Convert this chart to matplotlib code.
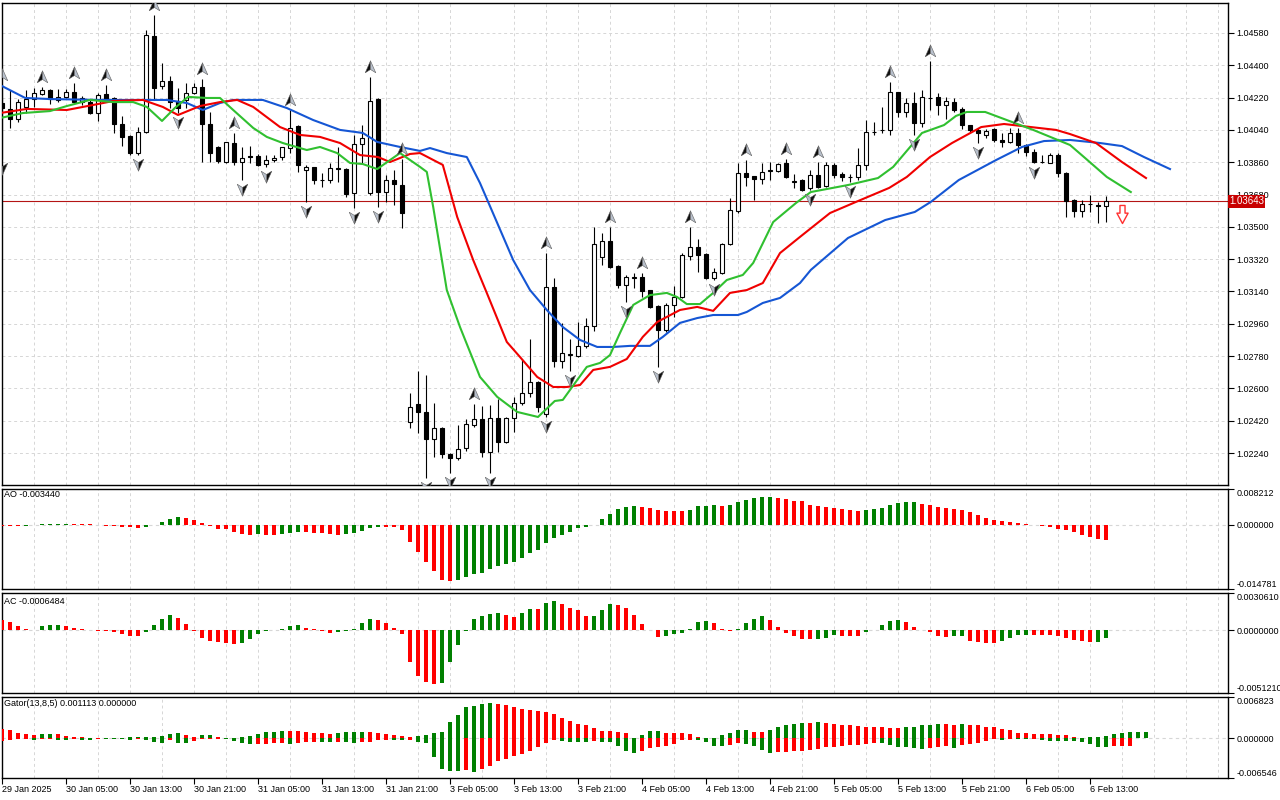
import numpy as np
import matplotlib
matplotlib.use("Agg")
import matplotlib.pyplot as plt
from matplotlib.path import Path
from matplotlib.transforms import ScaledTranslation

plt.rcParams['font.family'] = ['Liberation Sans', 'DejaVu Sans']
plt.rcParams['axes.unicode_minus'] = False

# ---- H1 candles, one per bar (bar 0 = 29 Jan 21:00) ----
opens = [1.04190, 1.04157, 1.04101, 1.04168, 1.04212, 1.04240, 1.04263, 1.04207, 1.04224, 1.04251,
         1.04195, 1.04195, 1.04134, 1.04240, 1.04218, 1.04073, 1.04006, 1.03911, 1.04028, 1.04563,
         1.04285, 1.04313, 1.04201, 1.04207, 1.04246, 1.04279, 1.04073, 1.03945, 1.03861, 1.03967,
         1.03861, 1.03895, 1.03895, 1.03850, 1.03872, 1.03889, 1.03939, 1.04062, 1.03817, 1.03834,
         1.03763, 1.03761, 1.03828, 1.03822, 1.03689, 1.03962, 1.03689, 1.04212, 1.03694, 1.03761,
         1.03733, 1.02413, 1.02514, 1.02469, 1.02319, 1.02380, 1.02235, 1.02213, 1.02269, 1.02397,
         1.02430, 1.02247, 1.02436, 1.02302, 1.02436, 1.02519, 1.02575, 1.02636, 1.02458, 1.03165,
         1.02753, 1.02786, 1.02781, 1.02837, 1.02948, 1.03332, 1.03421, 1.03282, 1.03176, 1.03215,
         1.03220, 1.03148, 1.03059, 1.02926, 1.03065, 1.03109, 1.03338, 1.03388, 1.03349, 1.03215,
         1.03243, 1.03405, 1.03588, 1.03800, 1.03783, 1.03767, 1.03811, 1.03811, 1.03856, 1.03750,
         1.03761, 1.03717, 1.03789, 1.03728, 1.03845, 1.03795, 1.03780, 1.03778, 1.03845, 1.04028,
         1.04038, 1.04040, 1.04251, 1.04140, 1.04190, 1.04079, 1.04220, 1.04224, 1.04179, 1.04195,
         1.04157, 1.04067, 1.04040, 1.04012, 1.04045, 1.03984, 1.03973, 1.04023, 1.03956, 1.03917,
         1.03863, 1.03856, 1.03900, 1.03800, 1.03650, 1.03588, 1.03627, 1.03622, 1.03616]
highs = [1.04290, 1.04263, 1.04212, 1.04263, 1.04274, 1.04279, 1.04268, 1.04268, 1.04268, 1.04302,
         1.04229, 1.04207, 1.04246, 1.04290, 1.04224, 1.04118, 1.04012, 1.04056, 1.04597, 1.04680,
         1.04413, 1.04341, 1.04274, 1.04302, 1.04302, 1.04324, 1.04140, 1.03950, 1.03975, 1.04023,
         1.03945, 1.03950, 1.03906, 1.03900, 1.03900, 1.03945, 1.04151, 1.04067, 1.03845, 1.03836,
         1.03800, 1.03856, 1.03945, 1.03828, 1.04012, 1.04067, 1.04335, 1.04218, 1.03789, 1.03817,
         1.03878, 1.02575, 1.02697, 1.02675, 1.02519, 1.02386, 1.02240, 1.02397, 1.02430, 1.02514,
         1.02503, 1.02508, 1.02541, 1.02441, 1.02553, 1.02764, 1.02876, 1.02641, 1.03354, 1.03215,
         1.02965, 1.02876, 1.02970, 1.02992, 1.03499, 1.03466, 1.03499, 1.03285, 1.03232, 1.03243,
         1.03243, 1.03150, 1.03062, 1.03076, 1.03171, 1.03354, 1.03499, 1.03433, 1.03352, 1.03271,
         1.03410, 1.03661, 1.03856, 1.03872, 1.03786, 1.03856, 1.03861, 1.03856, 1.03878, 1.03795,
         1.03764, 1.03817, 1.03861, 1.03861, 1.03856, 1.03806, 1.03795, 1.03939, 1.04095, 1.04084,
         1.04168, 1.04307, 1.04254, 1.04218, 1.04251, 1.04263, 1.04424, 1.04246, 1.04224, 1.04218,
         1.04168, 1.04070, 1.04051, 1.04045, 1.04048, 1.04023, 1.04051, 1.04051, 1.03959, 1.03934,
         1.03900, 1.03911, 1.03911, 1.03806, 1.03653, 1.03650, 1.03678, 1.03639, 1.03672]
lows = [1.03878, 1.04051, 1.04084, 1.04134, 1.04168, 1.04235, 1.04184, 1.04195, 1.04218, 1.04190,
        1.04179, 1.04130, 1.04090, 1.04207, 1.04023, 1.03950, 1.03900, 1.03900, 1.04023, 1.04207,
        1.04268, 1.04162, 1.04134, 1.04162, 1.04240, 1.03861, 1.03861, 1.03856, 1.03856, 1.03845,
        1.03761, 1.03856, 1.03839, 1.03834, 1.03861, 1.03872, 1.03911, 1.03806, 1.03639, 1.03739,
        1.03722, 1.03744, 1.03750, 1.03667, 1.03605, 1.03856, 1.03678, 1.03611, 1.03639, 1.03622,
        1.03494, 1.02380, 1.02352, 1.02101, 1.02218, 1.02213, 1.02129, 1.02202, 1.02252, 1.02386,
        1.02218, 1.02129, 1.02247, 1.02297, 1.02358, 1.02508, 1.02553, 1.02469, 1.02441, 1.02720,
        1.02714, 1.02697, 1.02775, 1.02826, 1.02920, 1.03288, 1.03271, 1.03159, 1.03081, 1.03159,
        1.03109, 1.03050, 1.02720, 1.02915, 1.02998, 1.03105, 1.03315, 1.03248, 1.03212, 1.03204,
        1.03240, 1.03399, 1.03577, 1.03728, 1.03650, 1.03739, 1.03761, 1.03806, 1.03772, 1.03717,
        1.03700, 1.03706, 1.03717, 1.03722, 1.03772, 1.03756, 1.03750, 1.03761, 1.03817, 1.04012,
        1.04023, 1.04012, 1.04112, 1.04112, 1.04012, 1.04056, 1.04151, 1.04123, 1.04101, 1.04140,
        1.04045, 1.04028, 1.03967, 1.03995, 1.03973, 1.03945, 1.03967, 1.03911, 1.03895, 1.03856,
        1.03856, 1.03853, 1.03778, 1.03555, 1.03555, 1.03555, 1.03583, 1.03522, 1.03527]
closes = [1.04162, 1.04101, 1.04195, 1.04212, 1.04246, 1.04263, 1.04212, 1.04224, 1.04251, 1.04195,
          1.04218, 1.04134, 1.04235, 1.04212, 1.04073, 1.04001, 1.03911, 1.04028, 1.04569, 1.04274,
          1.04313, 1.04195, 1.04162, 1.04246, 1.04279, 1.04073, 1.03911, 1.03867, 1.03973, 1.03861,
          1.03883, 1.03889, 1.03845, 1.03872, 1.03883, 1.03945, 1.04051, 1.03845, 1.03834, 1.03761,
          1.03761, 1.03828, 1.03822, 1.03683, 1.03962, 1.03995, 1.04201, 1.03694, 1.03761, 1.03739,
          1.03577, 1.02497, 1.02469, 1.02319, 1.02380, 1.02235, 1.02213, 1.02263, 1.02402, 1.02430,
          1.02247, 1.02436, 1.02302, 1.02436, 1.02519, 1.02575, 1.02636, 1.02497, 1.03165, 1.02753,
          1.02798, 1.02790, 1.02837, 1.02948, 1.03405, 1.03421, 1.03276, 1.03176, 1.03220, 1.03218,
          1.03143, 1.03054, 1.02926, 1.03065, 1.03109, 1.03343, 1.03388, 1.03343, 1.03215, 1.03248,
          1.03405, 1.03594, 1.03800, 1.03778, 1.03767, 1.03806, 1.03814, 1.03850, 1.03778, 1.03756,
          1.03706, 1.03789, 1.03722, 1.03845, 1.03789, 1.03778, 1.03776, 1.03845, 1.04028, 1.04030,
          1.04040, 1.04251, 1.04140, 1.04190, 1.04079, 1.04224, 1.04218, 1.04179, 1.04201, 1.04151,
          1.04067, 1.04040, 1.04023, 1.04034, 1.03984, 1.03973, 1.04023, 1.03956, 1.03917, 1.03861,
          1.03861, 1.03900, 1.03800, 1.03644, 1.03588, 1.03627, 1.03630, 1.03616, 1.03643]

up_fractals = [0, 5, 9, 13, 19, 25, 29, 36, 46, 50, 59, 68, 76, 80, 86, 93, 98, 102, 111, 116, 127]
down_fractals = [0, 17, 22, 30, 33, 38, 44, 47, 53, 56, 61, 68, 71, 78, 82, 89, 101, 106, 114, 122, 129]

# ---- Alligator lines (bar position, price), already shifted forward ----
jaw_x = [-0.25, 2.9, 6, 12.25, 16.4, 20.6, 23.1, 25.1, 27.25, 28.9, 32.6, 35.6, 38.9, 42.25, 45.1,
         46.9, 49.75, 52.25, 53.5, 55.6, 58.1, 59.75, 61.9, 63.9, 66, 68.1, 70.1, 72.25, 74.4, 76.4,
         78.5, 81, 82.6, 84.75, 86.9, 88.9, 92, 93.1, 95.1, 97.25, 99.75, 101.1, 105.75, 110.4, 114.1,
         116.1, 119.6, 124.25, 127.5, 130.25, 133.5, 137.25, 140, 142.75, 146]
jaw_y = [1.04290, 1.04218, 1.04212, 1.04207, 1.04207, 1.04207, 1.04190, 1.04151, 1.04190, 1.04207,
         1.04207, 1.04162, 1.04095, 1.04040, 1.04023, 1.03973, 1.03945, 1.03923, 1.03939, 1.03911,
         1.03889, 1.03744, 1.03522, 1.03315, 1.03148, 1.03037, 1.02942, 1.02870, 1.02831, 1.02831,
         1.02837, 1.02837, 1.02887, 1.02965, 1.02992, 1.03009, 1.03009, 1.03026, 1.03076, 1.03104,
         1.03187, 1.03260, 1.03438, 1.03538, 1.03583, 1.03639, 1.03761, 1.03872, 1.03945, 1.03978,
         1.03984, 1.03967, 1.03950, 1.03889, 1.03822]
teeth_x = [-0.25, 3.1, 8.1, 11.4, 13.9, 17.6, 20.1, 22, 24.75, 27.25, 29.4, 31.4, 34.75, 37.25, 39.75,
           42.25, 44.75, 47, 48.5, 51, 52.25, 55.1, 56.9, 58.9, 60.6, 63.1, 64.75, 66.9, 68.9, 70.6,
           72.25, 73.9, 76, 78.1, 80.1, 81.9, 84.75, 86.9, 88.9, 91, 93.1, 95.1, 97.25, 99.75, 103.5,
           106.75, 110.9, 113.1, 116, 118.75, 122.4, 125.25, 131.75, 133.5, 136.75, 140, 143]
teeth_y = [1.04134, 1.04157, 1.04151, 1.04179, 1.04201, 1.04207, 1.04168, 1.04123, 1.04173, 1.04195,
           1.04207, 1.04168, 1.04056, 1.04012, 1.04001, 1.03967, 1.03900, 1.03889, 1.03861, 1.03906,
           1.03911, 1.03845, 1.03555, 1.03315, 1.03132, 1.02859, 1.02775, 1.02664, 1.02608, 1.02608,
           1.02619, 1.02703, 1.02720, 1.02764, 1.02887, 1.02970, 1.03037, 1.03054, 1.03032, 1.03132,
           1.03148, 1.03187, 1.03354, 1.03444, 1.03577, 1.03639, 1.03717, 1.03778, 1.03889, 1.03967,
           1.04056, 1.04073, 1.04040, 1.04017, 1.03967, 1.03861, 1.03772]
lips_x = [-0.25, 2.6, 6, 8.1, 11, 13.9, 16.4, 18.1, 20, 21.6, 23.25, 25.6, 27.25, 28.9, 31.4, 33.1,
          35.1, 38.1, 39.75, 41.9, 43.5, 45.1, 46.9, 48.5, 49.75, 52.25, 53.1, 53.9, 55.6, 57.25,
          59.75, 61.9, 64.4, 67, 69.1, 70.1, 71.9, 73.1, 74.75, 76, 77.25, 78.9, 81, 83.1, 84.4, 85.6,
          87.25, 88.9, 90.6, 92.6, 93.9, 96.4, 99.25, 101.1, 105.75, 109.5, 111.4, 115, 117.75,
          119.25, 120.6, 122.9, 125.6, 128.9, 133.5, 135.4, 138.1, 141.1]
lips_y = [1.04106, 1.04134, 1.04145, 1.04173, 1.04207, 1.04195, 1.04195, 1.04168, 1.04090, 1.04162,
          1.04224, 1.04218, 1.04218, 1.04151, 1.04051, 1.04001, 1.03967, 1.03928, 1.03945, 1.03911,
          1.03856, 1.03850, 1.03822, 1.03872, 1.03911, 1.03834, 1.03806, 1.03611, 1.03148, 1.02942,
          1.02664, 1.02553, 1.02469, 1.02441, 1.02530, 1.02536, 1.02647, 1.02720, 1.02742, 1.02786,
          1.02909, 1.03065, 1.03120, 1.03132, 1.03109, 1.03070, 1.03070, 1.03132, 1.03204, 1.03232,
          1.03299, 1.03527, 1.03633, 1.03694, 1.03733, 1.03772, 1.03834, 1.04023, 1.04067, 1.04118,
          1.04140, 1.04140, 1.04095, 1.04040, 1.03956, 1.03883, 1.03778, 1.03694]

# ---- Awesome Oscillator ----
ao = [-0.00020, -0.00030, -0.00040, -0.00035, -0.00010, 0.00005, 0.00010, 0.00015, 0.00018, 0.00016,
      0.00012, 0.00008, -0.00010, -0.00020, -0.00030, -0.00045, -0.00060, -0.00076, -0.00060, -0.00010,
      0.00060, 0.00120, 0.00170, 0.00150, 0.00100, 0.00050, -0.00030, -0.00090, -0.00110, -0.00170,
      -0.00220, -0.00240, -0.00220, -0.00225, -0.00240, -0.00220, -0.00190, -0.00170, -0.00172, -0.00180,
      -0.00200, -0.00220, -0.00240, -0.00220, -0.00190, -0.00140, -0.00080, -0.00050, -0.00055, -0.00060,
      -0.00130, -0.00390, -0.00620, -0.00850, -0.01060, -0.01280, -0.01285, -0.01280, -0.01210, -0.01140,
      -0.01100, -0.01020, -0.00960, -0.00900, -0.00850, -0.00760, -0.00650, -0.00570, -0.00430, -0.00300,
      -0.00230, -0.00170, -0.00080, -0.00050, -0.00015, 0.00140, 0.00250, 0.00350, 0.00410, 0.00440,
      0.00417, 0.00387, 0.00349, 0.00326, 0.00324, 0.00304, 0.00349, 0.00425, 0.00440, 0.00442,
      0.00425, 0.00463, 0.00531, 0.00577, 0.00615, 0.00630, 0.00645, 0.00622, 0.00592, 0.00554,
      0.00539, 0.00463, 0.00440, 0.00417, 0.00387, 0.00364, 0.00342, 0.00326, 0.00349, 0.00352,
      0.00387, 0.00463, 0.00501, 0.00516, 0.00518, 0.00478, 0.00463, 0.00417, 0.00380, 0.00364,
      0.00342, 0.00288, 0.00213, 0.00159, 0.00114, 0.00076, 0.00053, 0.00050, 0.00015, -0.00015,
      -0.00030, -0.00053, -0.00091, -0.00129, -0.00167, -0.00243, -0.00281, -0.00334, -0.00344]

# ---- Accelerator Oscillator ----
ac = [0.00087, 0.00068, 0.00033, 0.00008, 0.00002, 0.00033, 0.00041, 0.00042, 0.00040, 0.00022,
      0.00008, 0.00005, -0.00005, -0.00006, -0.00014, -0.00027, -0.00046, -0.00047, -0.00014, 0.00041,
      0.00090, 0.00123, 0.00104, 0.00049, -0.00005, -0.00063, -0.00087, -0.00096, -0.00104, -0.00115,
      -0.00101, -0.00074, -0.00027, -0.00005, 0.00000, 0.00014, 0.00033, 0.00041, 0.00019, 0.00008,
      -0.00008, -0.00019, -0.00014, -0.00005, 0.00014, 0.00060, 0.00090, 0.00082, 0.00060, 0.00022,
      -0.00033, -0.00259, -0.00374, -0.00423, -0.00437, -0.00431, -0.00259, -0.00117, -0.00002, 0.00090,
      0.00115, 0.00131, 0.00142, 0.00123, 0.00106, 0.00142, 0.00177, 0.00172, 0.00224, 0.00238,
      0.00213, 0.00183, 0.00164, 0.00115, 0.00116, 0.00164, 0.00213, 0.00210, 0.00180, 0.00123,
      0.00049, 0.00005, -0.00055, -0.00046, -0.00027, -0.00019, 0.00014, 0.00068, 0.00074, 0.00060,
      0.00014, -0.00005, 0.00014, 0.00063, 0.00096, 0.00115, 0.00082, 0.00027, -0.00022, -0.00046,
      -0.00068, -0.00074, -0.00068, -0.00066, -0.00040, -0.00042, -0.00043, -0.00044, -0.00014, 0.00005,
      0.00041, 0.00074, 0.00082, 0.00068, 0.00027, 0.00000, -0.00014, -0.00049, -0.00055, -0.00046,
      -0.00045, -0.00090, -0.00096, -0.00101, -0.00104, -0.00087, -0.00060, -0.00041, -0.00035, -0.00036,
      -0.00037, -0.00041, -0.00046, -0.00060, -0.00076, -0.00087, -0.00096, -0.00094, -0.0006484]

# ---- Gator Oscillator (upper runs 5 bars past the last candle, lower 3) ----
gator_up = [0.00147, 0.00130, 0.00092, 0.00065, 0.00049, 0.00065, 0.00066, 0.00064, 0.00038, 0.00027,
            0.00022, 0.00011, 0.00005, 0.00003, 0.00002, 0.00011, 0.00016, 0.00017, 0.00022, 0.00027,
            0.00038, 0.00065, 0.00081, 0.00054, 0.00027, 0.00049, 0.00050, 0.00022, 0.00011, 0.00012,
            0.00022, 0.00038, 0.00076, 0.00103, 0.00104, 0.00119, 0.00118, 0.00117, 0.00098, 0.00087,
            0.00081, 0.00076, 0.00080, 0.00098, 0.00109, 0.00110, 0.00100, 0.00087, 0.00076, 0.00054,
            0.00038, 0.00030, 0.00035, 0.00054, 0.00081, 0.00103, 0.00266, 0.00391, 0.00516, 0.00538,
            0.00570, 0.00581, 0.00570, 0.00543, 0.00510, 0.00483, 0.00462, 0.00456, 0.00429, 0.00407,
            0.00337, 0.00293, 0.00240, 0.00212, 0.00163, 0.00119, 0.00114, 0.00103, 0.00081, 0.00011,
            0.00049, 0.00114, 0.00115, 0.00092, 0.00081, 0.00080, 0.00076, 0.00027, 0.00011, 0.00010,
            0.00049, 0.00092, 0.00130, 0.00131, 0.00109, 0.00108, 0.00130, 0.00185, 0.00228, 0.00244,
            0.00261, 0.00260, 0.00262, 0.00259, 0.00244, 0.00228, 0.00212, 0.00210, 0.00195, 0.00194,
            0.00179, 0.00178, 0.00163, 0.00179, 0.00195, 0.00212, 0.00228, 0.00244, 0.00243, 0.00228,
            0.00230, 0.00227, 0.00212, 0.00195, 0.00179, 0.00147, 0.00130, 0.00092, 0.00090, 0.00076,
            0.00065, 0.00064, 0.00063, 0.00049, 0.00027, 0.00011, 0.00015, 0.00022, 0.00038, 0.00065,
            0.00092, 0.00104, 0.00109, 0.001113]
gator_down = [-0.00043, -0.00027, -0.00016, -0.00010, -0.00027, -0.00016, -0.00011, -0.00027, -0.00028, -0.00016,
              -0.00027, -0.00028, -0.00010, -0.00012, -0.00016, -0.00017, -0.00027, -0.00011, -0.00027, -0.00054,
              -0.00071, -0.00033, -0.00071, -0.00072, -0.00043, -0.00016, -0.00010, -0.00008, -0.00010, -0.00043,
              -0.00081, -0.00098, -0.00097, -0.00087, -0.00081, -0.00080, -0.00087, -0.00081, -0.00065, -0.00054,
              -0.00060, -0.00065, -0.00060, -0.00065, -0.00070, -0.00060, -0.00055, -0.00035, -0.00020, -0.00027,
              -0.00033, -0.00033, -0.00054, -0.00081, -0.00315, -0.00505, -0.00532, -0.00540, -0.00525, -0.00548,
              -0.00505, -0.00451, -0.00369, -0.00342, -0.00288, -0.00261, -0.00206, -0.00136, -0.00071, -0.00033,
              -0.00040, -0.00060, -0.00061, -0.00062, -0.00043, -0.00054, -0.00060, -0.00125, -0.00206, -0.00244,
              -0.00206, -0.00163, -0.00141, -0.00125, -0.00098, -0.00030, -0.00020, -0.00027, -0.00060, -0.00125,
              -0.00126, -0.00109, -0.00081, -0.00090, -0.00125, -0.00190, -0.00244, -0.00223, -0.00220, -0.00215,
              -0.00206, -0.00190, -0.00168, -0.00141, -0.00136, -0.00125, -0.00114, -0.00113, -0.00098, -0.00081,
              -0.00082, -0.00114, -0.00136, -0.00141, -0.00163, -0.00174, -0.00152, -0.00136, -0.00125, -0.00152,
              -0.00114, -0.00098, -0.00081, -0.00043, -0.00016, -0.00020, -0.00011, -0.00016, -0.00017, -0.00011,
              -0.00027, -0.00043, -0.00044, -0.00045, -0.00046, -0.00060, -0.00098, -0.00136, -0.00141, -0.00125,
              -0.00124, -0.00123]

time_labels = ['29 Jan 2025', '30 Jan 05:00', '30 Jan 13:00', '30 Jan 21:00', '31 Jan 05:00',
               '31 Jan 13:00', '31 Jan 21:00', '3 Feb 05:00', '3 Feb 13:00', '3 Feb 21:00',
               '4 Feb 05:00', '4 Feb 13:00', '4 Feb 21:00', '5 Feb 05:00', '5 Feb 13:00',
               '5 Feb 21:00', '6 Feb 05:00', '6 Feb 13:00']
label_bars = list(range(0, 8 * len(time_labels), 8))

price_ticks = [1.04580, 1.04400, 1.04220, 1.04040, 1.03860, 1.03680, 1.03500,
               1.03320, 1.03140, 1.02960, 1.02780, 1.02600, 1.02420, 1.02240]
price_range = (1.02062, 1.04747)
ao_range = (-0.014781, 0.008212)
ac_range = (-0.0051210, 0.0030610)
gator_range = (-0.006546, 0.006823)

last_price = 1.03643
sell_bar, sell_price = 140, 1.03572

GREEN, RED = '#008000', '#ff0000'
GRID = '#d6d6d6'
FS = 6.5

W, H = 1280, 800
fig = plt.figure(figsize=(12.8, 8), dpi=100)


def px_axes(x0, y0, x1, y1):
    return fig.add_axes([x0 / W, 1 - y1 / H, (x1 - x0) / W, (y1 - y0) / H])


ax = px_axes(2, 3, 1228, 485)
ax_ao = px_axes(2, 489, 1228, 589)
ax_ac = px_axes(2, 593, 1228, 693)
ax_gt = px_axes(2, 697, 1228, 778)
all_axes = [ax, ax_ao, ax_ac, ax_gt]

xmax = (1228 - 2) / 8
grid_bars = np.arange(0, 156, 4)
for a in all_axes:
    a.set_xlim(0, xmax)
    a.set_xticks(grid_bars, minor=True)
    a.xaxis.grid(True, which='minor', color=GRID, ls=(0, (3, 3)), lw=0.7)
    a.set_axisbelow(True)
    a.yaxis.tick_right()
    a.tick_params(axis='y', direction='out', length=4, width=0.8, pad=2, labelsize=FS)
    a.tick_params(axis='x', which='both', length=0, labelbottom=False)
    for s in a.spines.values():
        s.set_linewidth(1.0)
        s.set_color('black')

# ---- main price panel ----
o, h, l, c = map(np.array, (opens, highs, lows, closes))
idx = np.arange(len(c))
bull = c >= o
ax.vlines(idx, l, h, color='black', lw=0.8, zorder=3)
ax.bar(idx, c - o, bottom=o, width=0.6, color=np.where(bull, 'white', 'black'),
       edgecolor='black', linewidth=0.8, zorder=4)

ax.plot(jaw_x, jaw_y, color='#1556d4', lw=1.5, zorder=5)
ax.plot(teeth_x, teeth_y, color='#f00000', lw=1.5, zorder=5)
ax.plot(lips_x, lips_y, color='#30c030', lw=1.5, zorder=5)


def poly(verts):
    return Path(verts + [verts[0]], [Path.MOVETO] + [Path.LINETO] * (len(verts) - 1) + [Path.CLOSEPOLY])


up_dark = poly([(0, 1), (0, -0.3), (-0.8, -0.8)])
up_light = poly([(0, 1), (0.8, -0.8), (0, -0.3)])
dn_light = poly([(0, -1), (0, 0.3), (-0.8, 0.8)])
dn_dark = poly([(0, -1), (0.8, 0.8), (0, 0.3)])

shift_up = ax.transData + ScaledTranslation(0, 0.10, fig.dpi_scale_trans)
shift_dn = ax.transData + ScaledTranslation(0, -0.09, fig.dpi_scale_trans)
fu = np.array(up_fractals)
fd = np.array(down_fractals)
for m, col in ((up_dark, '#101010'), (up_light, '#b8c0cc')):
    ax.plot(fu, h[fu], ls='none', marker=m, ms=9.5, mfc=col, mec='#606060', mew=0.4,
            transform=shift_up, zorder=6)
for m, col in ((dn_dark, '#101010'), (dn_light, '#b8c0cc')):
    ax.plot(fd, l[fd], ls='none', marker=m, ms=9.5, mfc=col, mec='#606060', mew=0.4,
            transform=shift_dn, zorder=6)

sell_arrow = poly([(-0.28, 1), (0.28, 1), (0.28, 0.15), (0.62, 0.15), (0, -1), (-0.62, 0.15), (-0.28, 0.15)])
ax.plot([sell_bar], [sell_price], ls='none', marker=sell_arrow, ms=13, mfc='white',
        mec='#ff3030', mew=1.0, zorder=6)

ax.axhline(last_price, color='#b41414', lw=0.8, zorder=2)
ax.set_ylim(*price_range)
ax.set_yticks(price_ticks)
ax.set_yticklabels([f'{v:.5f}' for v in price_ticks])
ax.yaxis.grid(True, color=GRID, ls=(0, (3, 3)), lw=0.7)
ax.text(1.0008, last_price, f'{last_price:.5f}', transform=ax.get_yaxis_transform(),
        ha='left', va='center', fontsize=FS + 0.5, color='white', zorder=10, clip_on=False,
        bbox=dict(boxstyle='square,pad=0.15', fc='#c80000', ec='none'))


# ---- oscillator panels ----
def grow_colors(vals, absolute=False):
    v = np.abs(vals) if absolute else np.asarray(vals)
    return [RED] + [GREEN if v[k] > v[k - 1] else RED for k in range(1, len(v))]


def osc_ticks(a, rng, fmt):
    lo, hi = rng
    a.set_ylim(lo, hi)
    a.set_yticks([hi, 0, lo])
    labels = a.set_yticklabels([fmt.format(hi), fmt.format(0.0), fmt.format(lo)])
    labels[0].set_va('top')
    labels[2].set_va('bottom')
    a.axhline(0, color=GRID, ls=(0, (3, 3)), lw=0.8, zorder=0)


ao_arr = np.array(ao)
ax_ao.bar(np.arange(len(ao_arr)), ao_arr, width=0.42, color=grow_colors(ao_arr), zorder=3)
osc_ticks(ax_ao, ao_range, '{:.6f}')
ax_ao.text(0.002, 0.94, f'AO {ao[-1]:.6f}', transform=ax_ao.transAxes, ha='left', va='center', fontsize=FS)

ac_arr = np.array(ac)
ax_ac.bar(np.arange(len(ac_arr)), ac_arr, width=0.42, color=grow_colors(ac_arr), zorder=3)
osc_ticks(ax_ac, ac_range, '{:.7f}')
ax_ac.text(0.002, 0.92, f'AC {ac[-1]:.7f}', transform=ax_ac.transAxes, ha='left', va='center', fontsize=FS)

gu = np.array(gator_up)
gd = np.array(gator_down)
ax_gt.bar(np.arange(len(gu)), gu, width=0.45, color=grow_colors(gu, True), zorder=3)
ax_gt.bar(np.arange(len(gd)), gd, width=0.45, color=grow_colors(gd, True), zorder=3)
osc_ticks(ax_gt, gator_range, '{:.6f}')
ax_gt.text(0.002, 0.915, f'Gator(13,8,5) {gu[-1]:.6f} {0:.6f}', transform=ax_gt.transAxes,
           ha='left', va='center', fontsize=FS)

# ---- time axis ----
ax_gt.set_xticks(label_bars)
ax_gt.set_xticklabels(time_labels)
ax_gt.tick_params(axis='x', which='major', length=4, width=0.8, direction='out',
                  labelbottom=True, labelsize=FS, pad=1)
for lbl in ax_gt.get_xticklabels():
    lbl.set_horizontalalignment('left')

fig.savefig('out.png', dpi=100)
